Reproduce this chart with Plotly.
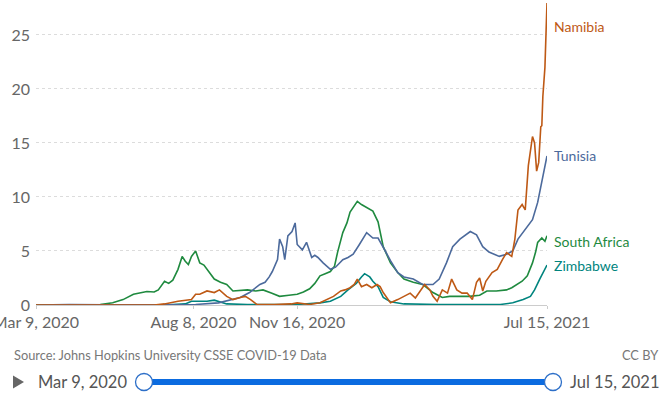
import plotly.graph_objects as go

# ---------------- data (daily new confirmed deaths per million) ----------------
sa_dates = ["2020-03-09","2020-04-15","2020-05-10","2020-05-22","2020-06-01","2020-06-11","2020-06-18",
            "2020-06-24","2020-07-01","2020-07-05","2020-07-11","2020-07-15","2020-07-19","2020-07-24",
            "2020-07-28","2020-07-31","2020-08-03","2020-08-06","2020-08-10","2020-08-14","2020-08-18",
            "2020-08-21","2020-08-28","2020-09-03","2020-09-09","2020-09-15","2020-09-22","2020-09-29",
            "2020-10-07","2020-10-14","2020-10-22","2020-10-30","2020-11-08","2020-11-16","2020-11-22",
            "2020-11-28","2020-12-03","2020-12-08","2020-12-13","2020-12-18","2020-12-22","2020-12-25",
            "2020-12-30","2021-01-03","2021-01-06","2021-01-10","2021-01-13","2021-01-17","2021-01-22",
            "2021-01-25","2021-01-28","2021-02-02","2021-02-07","2021-02-14","2021-02-21","2021-02-27",
            "2021-03-08","2021-03-17","2021-03-22","2021-03-27","2021-04-05","2021-04-12","2021-04-19",
            "2021-05-01","2021-05-11","2021-05-18","2021-05-27","2021-06-06","2021-06-11","2021-06-16",
            "2021-06-21","2021-06-26","2021-07-01","2021-07-04","2021-07-06","2021-07-10","2021-07-13",
            "2021-07-15"]
sa_vals = [0.0,0.02,0.05,0.2,0.5,1.0,1.1,1.25,1.2,1.4,2.2,2.0,2.3,3.3,4.5,4.05,3.75,4.5,5.0,3.9,3.7,
           3.3,2.4,2.1,1.9,1.3,1.35,1.4,1.3,1.4,1.1,0.8,0.9,1.0,1.2,1.5,2.0,2.7,2.9,3.1,3.6,4.9,
           6.7,7.6,8.6,9.2,9.6,9.3,9.0,8.9,8.7,7.7,5.4,3.9,3.0,2.4,2.1,1.9,1.5,1.15,0.7,0.8,0.8,
           0.8,0.9,1.3,1.3,1.4,1.6,1.9,2.2,2.7,3.9,4.9,5.8,6.2,5.9,6.4]

tn_dates = ["2020-03-09","2020-04-10","2020-05-15","2020-07-01","2020-08-10","2020-09-01","2020-09-15",
            "2020-09-22","2020-10-01","2020-10-06","2020-10-11","2020-10-16","2020-10-20","2020-10-23",
            "2020-10-28","2020-10-30","2020-11-02","2020-11-04","2020-11-07","2020-11-11","2020-11-14",
            "2020-11-16","2020-11-21","2020-11-25","2020-11-30","2020-12-03","2020-12-06","2020-12-11",
            "2020-12-18","2020-12-23","2020-12-30","2021-01-04","2021-01-09","2021-01-15","2021-01-22",
            "2021-01-28","2021-02-02","2021-02-09","2021-02-14","2021-02-21","2021-02-27","2021-03-08",
            "2021-03-17","2021-03-27","2021-04-02","2021-04-09","2021-04-15","2021-04-22","2021-05-02",
            "2021-05-08","2021-05-14","2021-05-20","2021-05-30","2021-06-06","2021-06-12","2021-06-17",
            "2021-06-26","2021-07-01","2021-07-06","2021-07-10","2021-07-13","2021-07-15"]
tn_vals = [0.0,0.05,0.02,0.0,0.05,0.2,0.5,0.7,1.15,1.5,1.9,2.1,2.6,3.1,4.2,6.1,5.4,4.2,6.4,6.8,7.6,
           5.6,5.1,5.8,4.4,4.6,4.4,3.9,3.3,3.5,4.2,4.4,4.7,5.6,6.7,6.2,6.2,5.0,4.1,3.0,2.6,2.4,1.9,
           1.9,2.4,3.9,5.4,6.1,6.8,6.5,5.4,4.9,4.5,4.7,5.0,6.1,7.3,7.9,9.5,11.3,12.7,13.8]

na_dates = ["2020-03-09","2020-07-01","2020-07-11","2020-07-24","2020-08-06","2020-08-10","2020-08-14",
            "2020-08-21","2020-08-28","2020-09-02","2020-09-09","2020-09-15","2020-09-22","2020-09-27",
            "2020-10-02","2020-10-08","2020-10-25","2020-11-10","2020-11-16","2020-11-28","2020-12-08",
            "2020-12-15","2020-12-21","2020-12-28","2021-01-01","2021-01-06","2021-01-10","2021-01-13",
            "2021-01-17","2021-01-22","2021-01-27","2021-02-01","2021-02-04","2021-02-07","2021-02-14",
            "2021-02-21","2021-02-27","2021-03-05","2021-03-10","2021-03-15","2021-03-19","2021-03-24",
            "2021-03-27","2021-03-31","2021-04-05","2021-04-10","2021-04-14","2021-04-19","2021-04-24",
            "2021-04-29","2021-05-04","2021-05-08","2021-05-11","2021-05-14","2021-05-17","2021-05-23",
            "2021-05-28","2021-06-02","2021-06-06","2021-06-11","2021-06-14","2021-06-17","2021-06-21",
            "2021-06-24","2021-06-27","2021-07-01","2021-07-03","2021-07-05","2021-07-07","2021-07-09",
            "2021-07-10","2021-07-11","2021-07-13","2021-07-15"]
na_vals = [0.0,0.0,0.1,0.35,0.5,1.0,1.0,1.3,1.15,1.4,0.8,0.5,0.7,0.8,0.5,0.05,0.05,0.1,0.2,0.05,0.2,
           0.5,0.8,1.3,1.4,1.6,1.9,2.4,1.7,1.9,1.6,1.9,1.7,1.15,0.2,0.5,0.8,1.1,0.65,1.3,1.9,1.4,
           0.8,0.35,1.4,1.1,2.4,1.4,1.1,1.1,0.5,2.1,2.5,1.3,2.2,3.0,3.3,4.2,4.85,4.5,6.1,8.8,9.3,
           8.8,12.9,15.6,15.0,12.4,13.2,16.5,16.6,19.3,22.0,28.0]

zw_dates = ["2020-03-09","2020-07-15","2020-07-31","2020-08-06","2020-08-21","2020-08-28","2020-09-09",
            "2020-09-29","2020-11-16","2020-12-08","2020-12-18","2020-12-28","2021-01-04","2021-01-12",
            "2021-01-17","2021-01-20","2021-01-25","2021-01-28","2021-02-02","2021-02-07","2021-02-14",
            "2021-02-27","2021-04-01","2021-05-31","2021-06-12","2021-06-22","2021-06-29","2021-07-03",
            "2021-07-08","2021-07-13","2021-07-15"]
zw_vals = [0.0,0.02,0.1,0.35,0.35,0.45,0.1,0.05,0.05,0.2,0.35,0.8,1.4,2.0,2.6,2.9,2.6,2.2,1.7,0.7,
           0.3,0.1,0.05,0.05,0.2,0.5,0.8,1.4,2.4,3.3,3.7]

series_names = ["Zimbabwe", "South Africa", "Tunisia", "Namibia"]
series_colors = ["#00847E", "#1F8A3F", "#4C6A9C", "#BE5915"]
series_data = [(zw_dates, zw_vals), (sa_dates, sa_vals), (tn_dates, tn_vals), (na_dates, na_vals)]
label_pixel_y = {"Namibia": 27, "Tunisia": 155, "South Africa": 241, "Zimbabwe": 265}

x_tick_vals = ["2020-03-09", "2020-08-08", "2020-11-16", "2021-07-15"]
x_tick_text = ["Mar 9, 2020", "Aug 8, 2020", "Nov 16, 2020", "Jul 15, 2021"]
y_tick_vals = [0, 5, 10, 15, 20, 25]

source_text = "Source: Johns Hopkins University CSSE COVID-19 Data"
license_text = "CC BY"
start_label = "Mar 9, 2020"
end_label = "Jul 15, 2021"

# ---------------- layout geometry ----------------
W, H = 671, 397
ML, MR, MT, MB = 36, 124, 3, 92
PW, PH = W - ML - MR, H - MT - MB

def px(xp):
    return (xp - ML) / PW

def py(yp):
    return (H - MB - yp) / PH

FONT = "Lato, 'Open Sans', sans-serif"

fig = go.Figure()
for name, color, (d, v) in zip(series_names, series_colors, series_data):
    fig.add_trace(go.Scatter(x=d, y=v, mode="lines", name=name,
                             line=dict(color=color, width=1.6), hoverinfo="skip"))

annotations = []
for name, color in zip(series_names, series_colors):
    annotations.append(dict(x=px(552), y=py(label_pixel_y[name]), xref="paper", yref="paper",
                            text=name, showarrow=False, xanchor="left", yanchor="middle",
                            font=dict(family=FONT, size=14, color=color)))

annotations += [
    dict(x=px(12), y=py(355), xref="paper", yref="paper", text=source_text, showarrow=False,
         xanchor="left", yanchor="middle", font=dict(family=FONT, size=12.8, color="#777")),
    dict(x=px(660), y=py(355), xref="paper", yref="paper", text=license_text, showarrow=False,
         xanchor="right", yanchor="middle", font=dict(family=FONT, size=12.8, color="#777")),
    dict(x=px(36), y=py(382), xref="paper", yref="paper", text=start_label, showarrow=False,
         xanchor="left", yanchor="middle", font=dict(family=FONT, size=16.5, color="#555")),
    dict(x=px(568), y=py(382), xref="paper", yref="paper", text=end_label, showarrow=False,
         xanchor="left", yanchor="middle", font=dict(family=FONT, size=16.5, color="#555")),
]

shapes = [
    # play triangle
    dict(type="path", xref="paper", yref="paper",
         path=f"M {px(13)} {py(375.5)} L {px(24)} {py(382)} L {px(13)} {py(388.5)} Z",
         fillcolor="#666", line=dict(width=0)),
    # slider track
    dict(type="line", xref="paper", yref="paper", x0=px(144), x1=px(553), y0=py(382), y1=py(382),
         line=dict(color="#0B6BE0", width=6)),
    # handles
    dict(type="circle", xref="paper", yref="paper", x0=px(135.5), x1=px(152.5), y0=py(373.5), y1=py(390.5),
         fillcolor="white", line=dict(color="#2D6FC8", width=1.3)),
    dict(type="circle", xref="paper", yref="paper", x0=px(544.5), x1=px(561.5), y0=py(373.5), y1=py(390.5),
         fillcolor="white", line=dict(color="#2D6FC8", width=1.3)),
]

fig.update_layout(
    width=W, height=H, margin=dict(l=ML, r=MR, t=MT, b=MB, pad=0),
    paper_bgcolor="white", plot_bgcolor="white", showlegend=False,
    font=dict(family=FONT, color="#666"),
    annotations=annotations, shapes=shapes, hovermode=False,
    xaxis=dict(type="date", range=["2020-03-09", "2021-07-15"], tickmode="array",
               tickvals=x_tick_vals, ticktext=x_tick_text, showgrid=False, automargin=False,
               showline=True, linecolor="#ccc", linewidth=1, ticks="outside", ticklen=3,
               tickcolor="#ccc", tickfont=dict(family=FONT, size=16, color="#666"),
               ticklabeloverflow="allow", zeroline=False, fixedrange=True),
    yaxis=dict(range=[0, 27.96], tickmode="array", tickvals=y_tick_vals, automargin=False,
               showgrid=True, gridcolor="#dcdcdc", griddash="3px,3px", gridwidth=1,
               zeroline=False, showline=False, ticks="",
               ticklabelstandoff=5,
               tickfont=dict(family=FONT, size=16, color="#666"), fixedrange=True),
)

fig.write_html("out.html", include_plotlyjs=True, config={"displayModeBar": False, "staticPlot": True},
               post_script="document.body.style.margin='0';document.body.style.overflow='hidden';")
